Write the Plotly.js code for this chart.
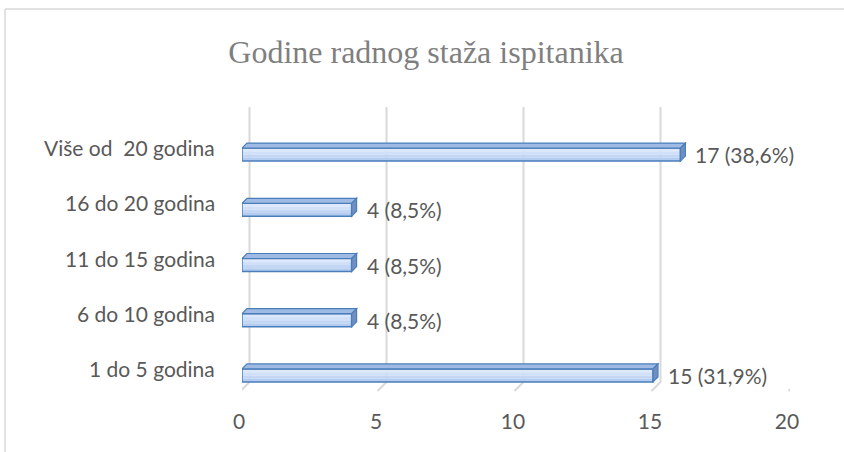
<!DOCTYPE html>
<html>
<head>
<meta charset="utf-8">
<script src="https://cdn.plot.ly/plotly-3.0.1.min.js"></script>
<style>html,body{margin:0;padding:0;background:#fff;}#chart{width:844px;height:452px;}</style>
</head>
<body>
<div id="chart"></div>
<script>
// ---- data ----
const categories = ['1 do 5 godina', '6 do 10 godina', '11 do 15 godina', '16 do 20 godina', 'Više od \u00a020 godina'];
const values = [15, 4, 4, 4, 16];
const dataLabels = ['15 (31,9%)', '4 (8,5%)', '4 (8,5%)', '4 (8,5%)', '17 (38,6%)'];
const xTicks = [0, 5, 10, 15, 20];
const titleText = 'Godine radnog staža ispitanika';

// ---- geometry ----
const W = 844, H = 452;
const mL = 242, mR = 54, mT = 127, mB = 49;
const plotW = W - mL - mR, plotH = H - mT - mB;
const xMin = 0, xMax = 20, yMin = -0.5, yMax = 4.5;
const ux = (xMax - xMin) / plotW;
const uy = (yMax - yMin) / plotH;
const yPos = categories.map((c, i) => i);
const barH = 13 * uy;
const depthX = 5 * ux, depthY = 5 * uy;
const px2paperX = p => (p - mL) / plotW;
const px2paperY = p => (H - mB - p) / plotH;

const gridColor = '#d9d9d9';
const edge = '#4a7ebb';
const textColor = '#595959';
const font = 'Lato, "Open Sans", sans-serif';
const fs = 21;

const shapes = [];
// chart area border
shapes.push({type: 'line', xref: 'paper', yref: 'paper', x0: px2paperX(5), x1: px2paperX(W + 5), y0: px2paperY(9), y1: px2paperY(9), line: {color: gridColor, width: 1.5}, layer: 'below'});
shapes.push({type: 'line', xref: 'paper', yref: 'paper', x0: px2paperX(5), x1: px2paperX(5), y0: px2paperY(9), y1: px2paperY(H + 5), line: {color: gridColor, width: 1.5}, layer: 'below'});
// 3D gridlines (back wall + floor edge)
const gTop = px2paperY(107), gBot = px2paperY(382), gFloor = px2paperY(391);
const gOff = 7.5 * ux;
xTicks.forEach(t => {
  shapes.push({type: 'path', xref: 'x', yref: 'paper', layer: 'below',
    path: `M ${t + gOff} ${gTop} L ${t + gOff} ${gBot} L ${t - 1.5 * ux} ${gFloor}`,
    line: {color: gridColor, width: 2}});
});
// front-face gradient strips + 3D faces
const strips = ['#dde9fb', '#d0e0f8', '#c3d7f4', '#b3ccef'];
values.forEach((v, i) => {
  const yt = yPos[i] + barH / 2;
  const yb = yPos[i] - barH / 2;
  strips.forEach((c, k) => {
    shapes.push({type: 'rect', xref: 'x', yref: 'y', layer: 'below',
      x0: 0, x1: v, y0: yt - k * barH / 4, y1: yt - (k + 1) * barH / 4,
      fillcolor: c, line: {width: 0}});
  });
  shapes.push({type: 'path', xref: 'x', yref: 'y', layer: 'above',
    path: `M 0 ${yt} L ${v} ${yt} L ${v + depthX} ${yt + depthY} L ${depthX} ${yt + depthY} Z`,
    fillcolor: '#9fbbe4', line: {color: edge, width: 1.2}});
  shapes.push({type: 'path', xref: 'x', yref: 'y', layer: 'above',
    path: `M ${v} ${yt} L ${v + depthX} ${yt + depthY} L ${v + depthX} ${yb + depthY} L ${v} ${yb} Z`,
    fillcolor: '#6f8fc2', line: {color: edge, width: 1.2}});
});

const annotations = [];
categories.forEach((c, i) => {
  annotations.push({xref: 'paper', yref: 'y', x: px2paperX(217), y: yPos[i], yshift: 7,
    xanchor: 'right', yanchor: 'middle', text: c, showarrow: false,
    font: {family: font, size: fs, color: textColor}});
  annotations.push({xref: 'x', yref: 'y', x: values[i], y: yPos[i], xshift: 13,
    xanchor: 'left', yanchor: 'middle', text: dataLabels[i], showarrow: false,
    font: {family: font, size: fs, color: textColor}});
});

const trace = {
  type: 'bar', orientation: 'h',
  x: values, y: yPos, width: barH,
  marker: {color: 'rgba(0,0,0,0)', line: {color: edge, width: 1.5}},
  hoverinfo: 'skip'
};

const layout = {
  width: W, height: H,
  margin: {l: mL, r: mR, t: mT, b: mB, pad: 0},
  paper_bgcolor: '#ffffff', plot_bgcolor: 'rgba(0,0,0,0)',
  showlegend: false,
  title: {text: titleText, x: 426 / W, xref: 'container', xanchor: 'center',
    y: 1 - 52 / H, yref: 'container', yanchor: 'middle',
    font: {family: '"Liberation Serif", "Times New Roman", serif', size: 32, color: '#7f7f7f'}},
  xaxis: {range: [xMin, xMax], tickvals: xTicks, ticktext: xTicks.map(String),
    showgrid: false, zeroline: false, showline: false, ticks: '',
    ticklabelshift: -3, ticklabelstandoff: 4,
    tickfont: {family: font, size: fs, color: textColor}, fixedrange: true},
  yaxis: {range: [yMin, yMax], showgrid: false, zeroline: false, showline: false,
    showticklabels: false, ticks: '', fixedrange: true},
  shapes: shapes,
  annotations: annotations,
  hovermode: false
};

Plotly.newPlot('chart', [trace], layout, {displayModeBar: false, staticPlot: true});
</script>
</body>
</html>
